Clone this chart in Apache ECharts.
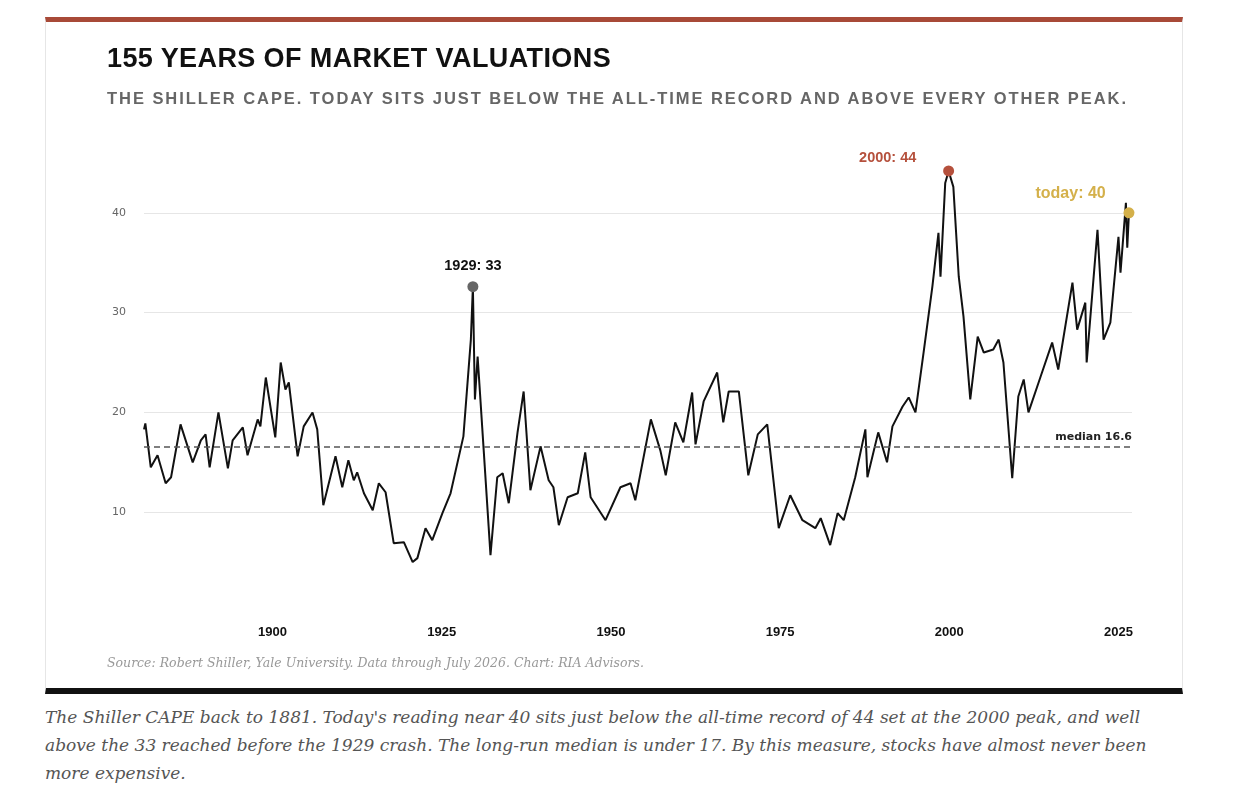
<!DOCTYPE html>
<html>
<head>
<meta charset="UTF-8">
<title>155 years of market valuations</title>
<script src="https://cdn.jsdelivr.net/npm/echarts@6/dist/echarts.min.js"></script>
<style>
  body { margin: 0; background: #fff; }
  #card { position: absolute; left: 45px; top: 17px; width: 1136px; height: 666px;
          border-left: 1px solid #e6e6e6; border-right: 1px solid #e6e6e6;
          border-top: 5px solid #a84a38; border-bottom: 6px solid #111; }
  #main { position: absolute; left: 0; top: 0; width: 1136px; height: 666px; }
  #title { position: absolute; left: 61px; top: 21px; font: bold 27px "Liberation Sans", Arial, sans-serif;
           color: #111; letter-spacing: 0.4px; white-space: nowrap; }
  #subtitle { position: absolute; left: 61px; top: 67px; font: bold 16.5px "Liberation Sans", Arial, sans-serif;
              color: #666; letter-spacing: 1.95px; white-space: nowrap; }
  #source { position: absolute; left: 61px; top: 633px; font: italic 12.5px "DejaVu Serif", serif; color: #999; white-space: nowrap; }
  #caption { position: absolute; left: 45px; top: 703px; width: 1120px;
             font: italic 17px/28px "DejaVu Serif", "Liberation Serif", serif; color: #555; }
</style>
</head>
<body>
<div id="card">
  <div id="main"></div>
  <div id="title">155 YEARS OF MARKET VALUATIONS</div>
  <div id="subtitle">THE SHILLER CAPE. TODAY SITS JUST BELOW THE ALL-TIME RECORD AND ABOVE EVERY OTHER PEAK.</div>
  <div id="source">Source: Robert Shiller, Yale University. Data through July 2026. Chart: RIA Advisors.</div>
</div>
<div id="caption">The Shiller CAPE back to 1881. Today's reading near 40 sits just below the all-time record of 44 set at the 2000 peak, and well above the 33 reached before the 1929 crash. The long-run median is under 17. By this measure, stocks have almost never been more expensive.</div>
<script>
// [year, CAPE]
var capeData = [
  [1881.0,18.3],[1881.2,18.9],[1882.0,14.5],[1883.0,15.7],[1884.2,12.9],[1885.0,13.5],
  [1886.4,18.8],[1888.2,15.0],[1889.4,17.2],[1890.1,17.8],[1890.7,14.5],[1892.0,20.0],
  [1893.4,14.4],[1894.1,17.2],[1895.6,18.5],[1896.3,15.7],[1897.8,19.3],[1898.2,18.6],
  [1899.0,23.5],[1900.4,17.5],[1901.2,25.0],[1901.9,22.3],[1902.4,23.0],[1903.7,15.6],
  [1904.6,18.6],[1905.9,20.0],[1906.6,18.3],[1907.5,10.7],[1909.3,15.6],[1910.3,12.5],
  [1911.2,15.2],[1912.0,13.2],[1912.5,14.0],[1913.5,11.9],[1914.8,10.2],[1915.7,12.9],
  [1916.7,12.0],[1917.9,6.9],[1919.4,7.0],[1920.7,5.0],[1921.4,5.4],[1922.6,8.4],
  [1923.6,7.2],[1925.1,9.9],[1926.3,11.9],[1928.2,17.6],[1929.3,27.3],[1929.6,32.6],
  [1929.9,21.3],[1930.3,25.6],[1931.2,16.2],[1932.2,5.7],[1933.2,13.5],[1934.0,13.9],
  [1934.9,10.9],[1936.2,18.0],[1937.1,22.1],[1938.1,12.2],[1939.6,16.6],[1940.8,13.2],
  [1941.5,12.5],[1942.3,8.7],[1943.6,11.5],[1945.1,11.9],[1946.2,16.0],[1947.0,11.5],
  [1949.2,9.2],[1951.4,12.5],[1952.9,12.9],[1953.6,11.2],[1955.9,19.3],[1957.3,16.2],
  [1958.1,13.7],[1959.5,19.0],[1960.7,17.0],[1962.0,22.0],[1962.5,16.8],[1963.7,21.1],
  [1965.7,24.0],[1966.6,19.0],[1967.4,22.1],[1968.9,22.1],[1970.3,13.7],[1971.7,17.8],
  [1973.1,18.8],[1974.8,8.4],[1976.5,11.7],[1978.3,9.2],[1980.2,8.4],[1981.0,9.4],
  [1982.4,6.7],[1983.5,9.9],[1984.4,9.2],[1986.1,13.5],[1987.6,18.3],[1987.9,13.5],
  [1989.5,18.0],[1990.8,15.0],[1991.6,18.6],[1993.1,20.6],[1994.0,21.5],[1995.0,20.0],
  [1996.2,26.0],[1997.5,32.6],[1998.4,38.0],[1998.7,33.6],[1999.4,43.0],[1999.9,44.2],
  [2000.6,42.6],[2001.4,33.6],[2002.1,29.6],[2003.1,21.3],[2004.2,27.6],[2005.1,26.0],
  [2006.5,26.3],[2007.3,27.3],[2008.0,25.0],[2009.3,13.4],[2010.2,21.6],[2011.0,23.3],
  [2011.7,20.0],[2013.5,23.6],[2015.2,27.0],[2016.1,24.3],[2018.2,33.0],[2018.9,28.3],
  [2020.1,31.0],[2020.3,25.0],[2021.9,38.3],[2022.8,27.3],[2023.8,29.0],[2025.0,37.6],
  [2025.3,34.0],[2026.1,41.0],[2026.3,36.5],[2026.55,40.0]
];
var medianValue = 16.6;
var xTickYears = [1900, 1925, 1950, 1975, 2000, 2025];
var yTickValues = [10, 20, 30, 40];
var peak1929 = [1929.6, 32.6];
var peak2000 = [1999.9, 44.2];
var today = [2026.55, 40.0];

var myChart = echarts.init(document.getElementById('main'));
myChart.setOption({
  animation: false,
  grid: { left: 98, right: 50, top: 121, bottom: 76 },
  xAxis: {
    type: 'value', min: 1881, max: 2027,
    axisLine: { show: false }, axisTick: { show: false }, splitLine: { show: false },
    axisLabel: { customValues: xTickYears, margin: 14, formatter: function (v) { return String(v); },
                 fontFamily: 'Liberation Sans', fontSize: 13, fontWeight: 'bold', color: '#111' }
  },
  yAxis: {
    type: 'value', min: 0, max: 47, interval: 10,
    axisLine: { show: false }, axisTick: { show: false },
    axisLabel: { customValues: yTickValues, margin: 18, fontFamily: 'DejaVu Sans', fontSize: 11, color: '#666' },
    splitLine: { showMinLine: false, showMaxLine: false, lineStyle: { color: '#e6e6e6' } }
  },
  series: [
    {
      type: 'line', data: capeData, showSymbol: false, z: 3,
      lineStyle: { color: '#111', width: 2 },
      markLine: {
        silent: true, symbol: 'none',
        lineStyle: { color: '#555', type: [6, 4], width: 1.5 },
        label: { position: 'insideEndTop', formatter: 'median 16.6', fontFamily: 'DejaVu Sans',
                 fontSize: 11, fontWeight: 'bold', color: '#222', distance: [0, 4] },
        data: [{ yAxis: medianValue }]
      }
    },
    {
      type: 'scatter', symbolSize: 11, z: 5,
      itemStyle: { opacity: 1 },
      data: [
        { value: peak1929, itemStyle: { color: '#666' },
          label: { show: true, position: 'top', distance: 8, formatter: '1929: 33', color: '#111' } },
        { value: peak2000, itemStyle: { color: '#b5503c' },
          label: { show: true, position: [-84, -15], formatter: '2000: 44', color: '#b5503c' } },
        { value: today, itemStyle: { color: '#d4b04a' },
          label: { show: true, position: [-88, -22], formatter: 'today: 40', color: '#d4b04a', fontSize: 16 } }
      ],
      label: { fontFamily: 'Liberation Sans', fontSize: 14.5, fontWeight: 'bold' }
    }
  ]
});
</script>
</body>
</html>
